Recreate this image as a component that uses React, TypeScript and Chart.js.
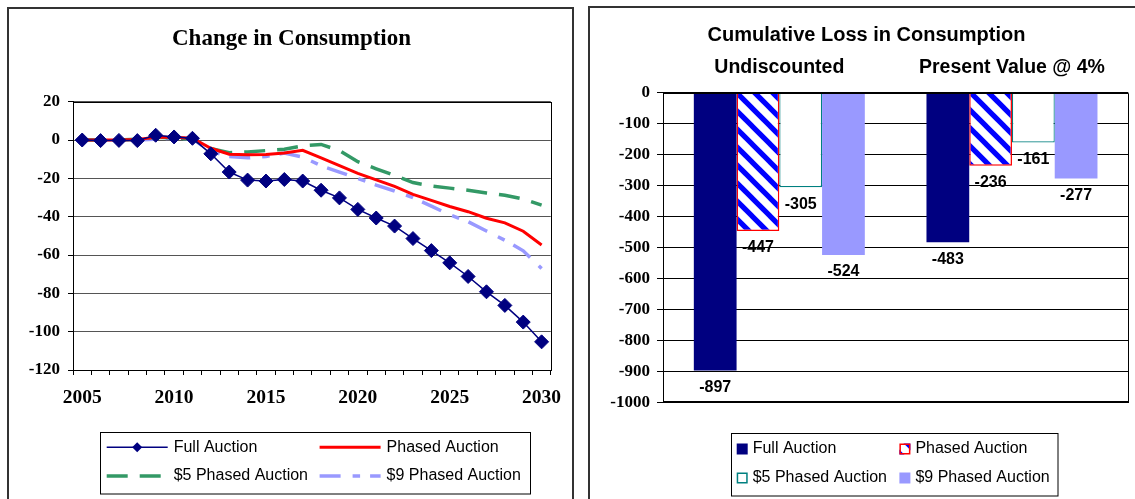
import React, { useEffect, useRef } from "react";
import { Chart, registerables } from "chart.js";

Chart.register(...registerables);

// ---------- Data: left chart (Change in Consumption) ----------
const years = [
  "2005", "2006", "2007", "2008", "2009", "2010", "2011", "2012", "2013",
  "2014", "2015", "2016", "2017", "2018", "2019", "2020", "2021", "2022",
  "2023", "2024", "2025", "2026", "2027", "2028", "2029", "2030",
];
const labeledYears = ["2005", "2010", "2015", "2020", "2025", "2030"];
const fullAuction = [
  0, -0.3, -0.2, -0.3, 2.5, 1.6, 0.9, -7.2, -16.7, -20.9, -21.4, -20.6, -21.4,
  -26.2, -30.2, -36.2, -40.7, -44.9, -51.4, -57.7, -64.1, -71.2, -79.2, -86.3,
  -95.0, -105.3,
];
const phasedAuction = [
  0, 0, 0, 0.3, 1.5, 1.5, 0.9, -4.3, -7.4, -7.7, -7.6, -6.8, -5.4, -9.3, -13.3,
  -17.4, -20.8, -24.2, -28.4, -31.5, -34.7, -37.4, -40.8, -43.2, -47.6, -54.8,
];
const fivePhased = [
  0, 0, 0, 0.5, 1.5, 1.0, 0.5, -4.5, -6.6, -6.2, -5.5, -4.8, -3.0, -2.3, -5.5,
  -11.3, -15.0, -18.5, -22.2, -24.0, -25.1, -26.2, -27.6, -28.8, -30.8, -34.0,
];
const ninePhased = [
  0, 0, 0, 0, 0.5, 1.0, 0.5, -5.8, -8.6, -9.3, -8.6, -6.8, -8.9, -13.4, -16.7,
  -20.0, -23.5, -26.6, -30.1, -34.5, -39.0, -42.6, -47.5, -52.3, -57.8, -67.0,
];
const lineYMin = -120;
const lineYMax = 20;
const lineYStep = 20;

// ---------- Data: right chart (Cumulative Loss) ----------
const barCategories = ["Undiscounted", "Present Value @ 4%"];
const barFull = [-897, -483];
const barPhased = [-447, -236];
const barFive = [-305, -161];
const barNine = [-524, -277];
const barYMin = -1000;
const barYMax = 0;
const barYStep = 100;

const seriesNames = [
  "Full Auction",
  "Phased Auction",
  "$5 Phased Auction",
  "$9 Phased Auction",
];

const SERIF = "'Liberation Serif', 'Times New Roman', serif";
const SANS = "'Liberation Sans', Arial, sans-serif";

function makeHatch(): CanvasPattern | string {
  const c = document.createElement("canvas");
  c.width = 18;
  c.height = 18;
  const g = c.getContext("2d");
  if (!g) return "#0000FF";
  g.fillStyle = "#FFFFFF";
  g.fillRect(0, 0, 18, 18);
  g.fillStyle = "#0000FF";
  const w = 3.7;
  g.beginPath();
  g.moveTo(0, 0);
  g.lineTo(w, 0);
  g.lineTo(18, 18 - w);
  g.lineTo(18, 18);
  g.lineTo(18 - w, 18);
  g.lineTo(0, w);
  g.closePath();
  g.fill();
  g.beginPath();
  g.moveTo(18 - w, 0);
  g.lineTo(18, 0);
  g.lineTo(18, w);
  g.closePath();
  g.fill();
  g.beginPath();
  g.moveTo(0, 18 - w);
  g.lineTo(0, 18);
  g.lineTo(w, 18);
  g.closePath();
  g.fill();
  return g.createPattern(c, "repeat") || "#0000FF";
}

const lineFramePlugin = {
  id: "lineFrame",
  beforeDatasetsDraw(chart: any) {
    const { ctx, chartArea } = chart;
    ctx.save();
    ctx.strokeStyle = "#000";
    ctx.lineWidth = 1;
    ctx.strokeRect(
      Math.round(chartArea.left) + 0.5,
      Math.round(chartArea.top) + 0.5,
      Math.round(chartArea.right - chartArea.left),
      Math.round(chartArea.bottom - chartArea.top)
    );
    ctx.restore();
  },
};

const lineLegendPlugin = {
  id: "lineLegend",
  afterDraw(chart: any) {
    const ctx = chart.ctx;
    ctx.save();
    ctx.strokeStyle = "#000";
    ctx.lineWidth = 1;
    ctx.strokeRect(92.5, 432.5, 430, 61.5);
    const cols = [98.7, 311.6];
    const rows = [447.3, 476];
    chart.data.datasets.forEach((ds: any, i: number) => {
      const x0 = cols[i % 2];
      const y = rows[Math.floor(i / 2)];
      ctx.save();
      ctx.strokeStyle = ds.borderColor;
      ctx.lineWidth = ds.borderWidth;
      ctx.setLineDash(ds.borderDash || []);
      ctx.beginPath();
      ctx.moveTo(x0, y);
      ctx.lineTo(x0 + 61, y);
      ctx.stroke();
      ctx.restore();
      if (ds.pointRadius > 0) {
        const cx = x0 + 30.5;
        const r = 5;
        ctx.fillStyle = ds.pointBackgroundColor;
        ctx.beginPath();
        ctx.moveTo(cx - r, y);
        ctx.lineTo(cx, y - r);
        ctx.lineTo(cx + r, y);
        ctx.lineTo(cx, y + r);
        ctx.closePath();
        ctx.fill();
      }
      ctx.fillStyle = "#000";
      ctx.font = `16px ${SANS}`;
      ctx.textBaseline = "middle";
      ctx.textAlign = "left";
      ctx.fillText(ds.label, x0 + 67, y);
    });
    ctx.restore();
  },
};

const barFramePlugin = {
  id: "barFrame",
  afterDatasetsDraw(chart: any) {
    const { ctx, chartArea } = chart;
    ctx.save();
    ctx.strokeStyle = "#000";
    ctx.lineWidth = 1;
    const l = Math.round(chartArea.left) + 0.5;
    const t = Math.round(chartArea.top) + 0.5;
    const r = Math.round(chartArea.right) + 0.5;
    const b = Math.round(chartArea.bottom);
    ctx.beginPath();
    ctx.moveTo(l, t);
    ctx.lineTo(r, t);
    ctx.lineTo(r, b);
    ctx.stroke();
    ctx.beginPath();
    ctx.moveTo(l, t);
    ctx.lineTo(l, b);
    ctx.stroke();
    ctx.lineWidth = 2;
    ctx.beginPath();
    ctx.moveTo(l - 0.5, b);
    ctx.lineTo(r + 0.5, b);
    ctx.stroke();
    ctx.restore();
  },
};

const barLabelPlugin = {
  id: "barLabels",
  afterDatasetsDraw(chart: any) {
    const ctx = chart.ctx;
    ctx.save();
    ctx.fillStyle = "#000";
    ctx.font = `bold 16px ${SANS}`;
    ctx.textAlign = "center";
    ctx.textBaseline = "middle";
    chart.data.datasets.forEach((ds: any, di: number) => {
      const meta = chart.getDatasetMeta(di);
      meta.data.forEach((el: any, i: number) => {
        ctx.fillText(String(ds.data[i]), el.x, el.y + 17);
      });
    });
    ctx.restore();
  },
};

const barLegendPlugin = {
  id: "barLegend",
  afterDraw(chart: any) {
    const ctx = chart.ctx;
    ctx.save();
    ctx.strokeStyle = "#000";
    ctx.lineWidth = 1;
    ctx.strokeRect(141.5, 433.5, 326.5, 62.5);
    const cols = [146.7, 309.4];
    const rows = [449, 478];
    chart.data.datasets.forEach((ds: any, i: number) => {
      const x0 = cols[i % 2];
      const y = rows[Math.floor(i / 2)];
      const s = 11;
      ctx.fillStyle = ds.backgroundColor;
      ctx.fillRect(x0, y - s / 2, s, s);
      if (ds.borderWidth > 0) {
        ctx.strokeStyle = ds.borderColor;
        ctx.lineWidth = 1.5;
        ctx.strokeRect(x0 + 0.75, y - s / 2 + 0.75, s - 1.5, s - 1.5);
      }
      ctx.fillStyle = "#000";
      ctx.font = `16px ${SANS}`;
      ctx.textBaseline = "middle";
      ctx.textAlign = "left";
      ctx.fillText(ds.label, x0 + 16, y);
    });
    ctx.restore();
  },
};

export default function App() {
  const leftRef = useRef<HTMLCanvasElement>(null);
  const rightRef = useRef<HTMLCanvasElement>(null);

  useEffect(() => {
    if (!leftRef.current || !rightRef.current) return;
    const hatch = makeHatch();

    const lineChart = new Chart(leftRef.current, {
      type: "line",
      data: {
        labels: years,
        datasets: [
          {
            label: seriesNames[0],
            data: fullAuction,
            borderColor: "#000080",
            backgroundColor: "#000080",
            borderWidth: 1.5,
            pointStyle: "rectRot",
            pointRadius: 7,
            pointBackgroundColor: "#000080",
            pointBorderColor: "#000080",
            pointBorderWidth: 1,
            tension: 0,
          },
          {
            label: seriesNames[1],
            data: phasedAuction,
            borderColor: "#FF0000",
            backgroundColor: "#FF0000",
            borderWidth: 3,
            pointRadius: 0,
            tension: 0,
          },
          {
            label: seriesNames[2],
            data: fivePhased,
            borderColor: "#339966",
            backgroundColor: "#339966",
            borderWidth: 3.5,
            borderDash: [21, 12],
            pointRadius: 0,
            tension: 0,
          },
          {
            label: seriesNames[3],
            data: ninePhased,
            borderColor: "#9999FF",
            backgroundColor: "#9999FF",
            borderWidth: 3.5,
            borderDash: [21, 12, 7.5, 10],
            pointRadius: 0,
            tension: 0,
          },
        ] as any,
      },
      options: {
        responsive: false,
        maintainAspectRatio: false,
        animation: false,
        layout: { padding: { left: 17.3, right: 15.3, top: 0, bottom: 84 } },
        plugins: {
          legend: { display: false },
          tooltip: { enabled: false },
          title: {
            display: true,
            text: "Change in Consumption",
            color: "#000",
            font: { family: SERIF, size: 23, weight: "bold", lineHeight: 1.2 },
            padding: { top: 25.2, bottom: 48.9 },
          },
        },
        scales: {
          x: {
            type: "category",
            offset: true,
            grid: {
              offset: true,
              drawOnChartArea: false,
              drawTicks: true,
              tickLength: 5,
              color: "#000",
            },
            border: { display: true, color: "#000" },
            ticks: {
              autoSkip: false,
              maxRotation: 0,
              minRotation: 0,
              padding: 11.6,
              color: "#000",
              font: { family: SERIF, size: 19.5, weight: "bold" },
              callback: (_v: any, i: number) =>
                labeledYears.includes(years[i]) ? years[i] : "",
            },
            afterFit: (s: any) => {
              s.height = 45;
            },
          },
          y: {
            min: lineYMin,
            max: lineYMax,
            ticks: {
              stepSize: lineYStep,
              padding: 8,
              color: "#000",
              font: { family: SERIF, size: 17, weight: "bold" },
              callback: (v: any) => String(v),
            },
            grid: { color: "#555", tickLength: 5, tickColor: "#000" },
            border: { display: true, color: "#000" },
            afterFit: (s: any) => {
              s.width = 47.7;
            },
          },
        },
      } as any,
      plugins: [lineFramePlugin, lineLegendPlugin],
    });

    const barChart = new Chart(rightRef.current, {
      type: "bar",
      data: {
        labels: barCategories,
        datasets: [
          {
            label: seriesNames[0],
            data: barFull,
            backgroundColor: "#000080",
            borderWidth: 0,
          },
          {
            label: seriesNames[1],
            data: barPhased,
            backgroundColor: hatch,
            borderColor: "#FF0000",
            borderWidth: 1.5,
          },
          {
            label: seriesNames[2],
            data: barFive,
            backgroundColor: "#FFFFFF",
            borderColor: "#008080",
            borderWidth: 1.2,
          },
          {
            label: seriesNames[3],
            data: barNine,
            backgroundColor: "#9999FF",
            borderWidth: 0,
          },
        ] as any,
      },
      options: {
        responsive: false,
        maintainAspectRatio: false,
        animation: false,
        datasets: { bar: { categoryPercentage: 0.735, barPercentage: 1 } },
        layout: { padding: { left: 14.7, right: 6.7, top: 0, bottom: 96.7 } },
        plugins: {
          legend: { display: false },
          tooltip: { enabled: false },
          title: {
            display: true,
            text: "Cumulative Loss in Consumption",
            color: "#000",
            font: { family: SANS, size: 20, weight: "bold", lineHeight: 1.2 },
            padding: { top: 23, bottom: 3.4 },
          },
        },
        scales: {
          x: {
            position: "top",
            grid: { display: false, drawTicks: false },
            border: { display: false },
            ticks: {
              padding: 13.3,
              autoSkip: false,
              maxRotation: 0,
              color: "#000",
              font: { family: SANS, size: 19.5, weight: "bold" },
            },
            afterFit: (s: any) => {
              s.height = 42.3;
            },
          },
          y: {
            min: barYMin,
            max: barYMax,
            ticks: {
              stepSize: barYStep,
              padding: 7,
              color: "#000",
              font: { family: SERIF, size: 17, weight: "bold" },
              callback: (v: any) => String(v),
            },
            grid: { color: "#000", tickLength: 6, tickColor: "#000" },
            border: { display: true, color: "#000" },
            afterFit: (s: any) => {
              s.width = 58.3;
            },
          },
        },
      } as any,
      plugins: [barFramePlugin, barLabelPlugin, barLegendPlugin],
    });

    return () => {
      lineChart.destroy();
      barChart.destroy();
    };
  }, []);

  return (
    <div
      style={{
        position: "fixed",
        left: 0,
        top: 0,
        width: 1135,
        height: 499,
        overflow: "hidden",
        background: "#fff",
      }}
    >
      <div
        style={{
          position: "absolute",
          left: 7,
          top: 7,
          width: 567,
          height: 600,
          border: "2px solid #333",
          boxSizing: "border-box",
        }}
      />
      <div
        style={{
          position: "absolute",
          left: 588,
          top: 6,
          width: 600,
          height: 600,
          border: "2px solid #333",
          boxSizing: "border-box",
        }}
      />
      <canvas
        ref={leftRef}
        width={565}
        height={499}
        style={{ position: "absolute", left: 8, top: 0, width: 565, height: 499 }}
      />
      <canvas
        ref={rightRef}
        width={545}
        height={499}
        style={{ position: "absolute", left: 590, top: 0, width: 545, height: 499 }}
      />
    </div>
  );
}
